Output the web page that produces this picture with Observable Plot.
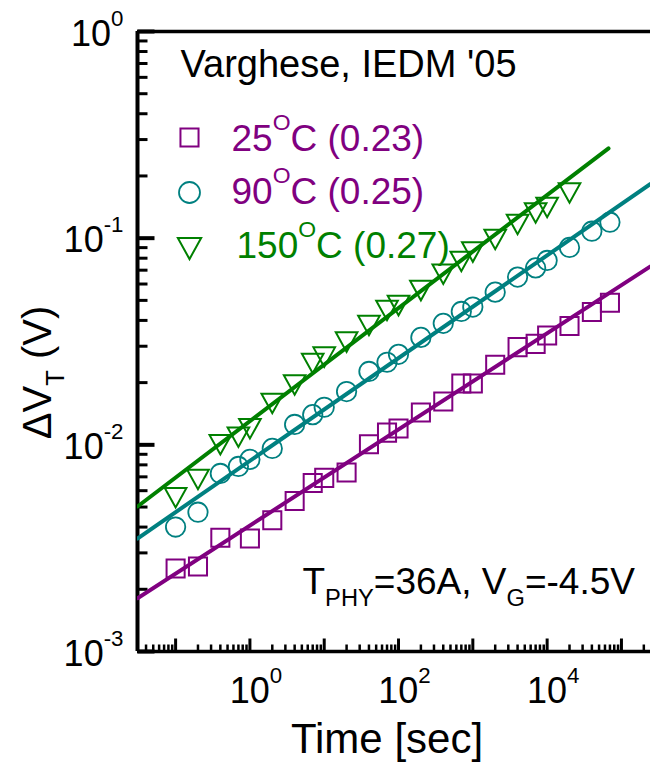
<!DOCTYPE html>
<html>
<head>
<meta charset="utf-8">
<script src="https://cdn.jsdelivr.net/npm/d3@7"></script>
<script src="https://cdn.jsdelivr.net/npm/@observablehq/plot@0.6"></script>
<style>
  html, body { margin: 0; padding: 0; background: #fff; }
  #chart { width: 650px; height: 763px; }
</style>
</head>
<body>
<div id="chart"></div>
<script>
// ---------- data ----------
const time25 = [0.1,0.2,0.4,1,2,4,7,10,20,40,70,100,200,400,700,1000,2000,4000,7000,10000,20000,40000,70000];
const dvt25  = [0.00252,0.00258,0.00355,0.00352,0.00432,0.00535,0.00653,0.00692,0.00735,0.01007,0.01146,0.0120,0.01435,0.0162,0.0198,0.0198,0.0244,0.0297,0.0308,0.0338,0.0376,0.0439,0.0487];

const time90 = [0.1,0.2,0.4,0.7,1,2,4,7,10,20,40,70,100,200,400,700,1000,2000,4000,7000,10000,20000,40000,70000];
const dvt90  = [0.0040,0.00472,0.00727,0.00786,0.0085,0.00961,0.01255,0.0140,0.0152,0.0181,0.02265,0.0251,0.0274,0.0331,0.0387,0.0442,0.0464,0.0548,0.0648,0.0718,0.0780,0.0902,0.1081,0.1195];

const time150 = [0.1,0.2,0.4,0.7,1,2,4,7,10,20,40,70,100,200,400,700,1000,2000,4000,7000,10000,20000];
const dvt150  = [0.00555,0.0068,0.01001,0.01089,0.01197,0.01586,0.01949,0.02475,0.02656,0.0314,0.0378,0.0447,0.0472,0.0558,0.0669,0.0771,0.0857,0.0986,0.1165,0.1324,0.1408,0.1654];

// power-law fit lines (end points)
const fitTime25  = [0.0307, 246000];
const fitDvt25   = [0.00181, 0.073];
const fitTime90  = [0.0307, 246000];
const fitDvt90   = [0.00352, 0.183];
const fitTime150 = [0.0307, 67000];
const fitDvt150  = [0.00503, 0.272];

const legendLabels = ["25^{O}C (0.23)", "90^{O}C (0.25)", "150^{O}C (0.27)"];
const titleText = ["Varghese, IEDM '05"];
const noteText = ["T_{PHY}=36A, V_{G}=-4.5V"];
const xTitle = ["Time [sec]"];
const yTitle = ["\u0394V_{T} (V)"];

const xTickValues = [1, 100, 10000];
const xTickLabels = ["10^{0}", "10^{2}", "10^{4}"];
const yTickValues = [1, 0.1, 0.01, 0.001];
const yTickLabels = ["10^{0}", "10^{-1}", "10^{-2}", "10^{-3}"];

const xDomain = [0.0307, 246000];
const yDomain = [0.001, 1];

// ---------- styles ----------
const PURPLE = "#800080", TEAL = "#008080", GREEN = "#008000";
const FONT = "'Liberation Sans', Arial, Helvetica, sans-serif";

const downTriangle = {
  draw(context, size) {
    const r = Math.sqrt(size / Math.PI);
    const hw = 1.06 * r, hh = 0.96 * r;
    context.moveTo(-hw, -hh);
    context.lineTo(hw, -hh);
    context.lineTo(0, hh);
    context.closePath();
  }
};
const tickShape = { draw(context, l) { context.moveTo(0, 0); context.lineTo(0, -l); } };

const pts = (t, v) => t.map((d, i) => ({t: d, v: v[i]}));
const isPow10 = d => Math.abs(Math.log10(d) - Math.round(Math.log10(d))) < 1e-9;
const xAll = d3.scaleLog().domain(xDomain).ticks();
const yAll = d3.scaleLog().domain(yDomain).ticks();
const xMajor = xAll.filter(isPow10), xMinor = xAll.filter(d => !isPow10(d));
const yMajor = yAll.filter(isPow10), yMinor = yAll.filter(d => !isPow10(d));

const R = 10.2;

const chart = Plot.plot({
  width: 650,
  height: 763,
  marginLeft: 137,
  marginRight: 0,
  marginTop: 31,
  marginBottom: 112,
  style: {fontFamily: FONT, background: "#fff", color: "#000", overflow: "visible"},
  x: {type: "log", domain: xDomain, axis: null},
  y: {type: "log", domain: yDomain, axis: null},
  marks: [
    // frame
    Plot.ruleY([yDomain[0], yDomain[1]], {y: d => d, stroke: "#000", strokeWidth: 3.5}),
    Plot.ruleX([xDomain[0]], {x: d => d, stroke: "#000", strokeWidth: 4}),
    // inward ticks
    Plot.vector(xMajor, {x: d => d, frameAnchor: "bottom", length: 13, rotate: 0, anchor: "start", shape: tickShape, stroke: "#000", strokeWidth: 3, strokeLinecap: "butt", fill: "none"}),
    Plot.vector(xMinor, {x: d => d, frameAnchor: "bottom", length: 7, rotate: 0, anchor: "start", shape: tickShape, stroke: "#000", strokeWidth: 2.5, strokeLinecap: "butt", fill: "none"}),
    Plot.vector(yMajor, {y: d => d, frameAnchor: "left", length: 17, rotate: 90, anchor: "start", shape: tickShape, stroke: "#000", strokeWidth: 4, strokeLinecap: "butt", fill: "none"}),
    Plot.vector(yMinor, {y: d => d, frameAnchor: "left", length: 10, rotate: 90, anchor: "start", shape: tickShape, stroke: "#000", strokeWidth: 3, strokeLinecap: "butt", fill: "none"}),
    // tick labels
    Plot.text(xTickValues, {x: d => d, text: (d, i) => xTickLabels[i], frameAnchor: "bottom", dy: 51, dx: 6, textAnchor: "middle", lineAnchor: "bottom", fontSize: 36, fill: "#000"}),
    Plot.text(yTickValues, {y: d => d, text: (d, i) => yTickLabels[i], frameAnchor: "left", dx: -14, dy: 14, textAnchor: "end", lineAnchor: "bottom", fontSize: 36, fill: "#000"}),
    // axis titles
    Plot.text(xTitle, {text: d => d, frameAnchor: "bottom", dy: 101, dx: -7, textAnchor: "middle", lineAnchor: "bottom", fontSize: 42, fill: "#000"}),
    Plot.text(yTitle, {text: d => d, frameAnchor: "left", dx: -87, dy: 31, rotate: -90, textAnchor: "middle", lineAnchor: "bottom", fontSize: 40, fill: "#000"}),
    // data
    Plot.dot(pts(time25, dvt25), {x: "t", y: "v", symbol: "square", r: R, stroke: PURPLE, strokeWidth: 2, fill: "none"}),
    Plot.dot(pts(time90, dvt90), {x: "t", y: "v", symbol: "circle", r: 9.7, stroke: TEAL, strokeWidth: 1.8, fill: "none"}),
    Plot.dot(pts(time150, dvt150), {x: "t", y: "v", symbol: downTriangle, r: R, stroke: GREEN, strokeWidth: 2, fill: "none"}),
    Plot.line(pts(fitTime25, fitDvt25), {x: "t", y: "v", stroke: PURPLE, strokeWidth: 4, clip: true}),
    Plot.line(pts(fitTime90, fitDvt90), {x: "t", y: "v", stroke: TEAL, strokeWidth: 4, clip: true}),
    Plot.line(pts(fitTime150, fitDvt150), {x: "t", y: "v", stroke: GREEN, strokeWidth: 4, clip: true}),
    // annotations
    Plot.text(titleText, {text: d => d, frameAnchor: "top-left", dx: 43, dy: 45, textAnchor: "start", lineAnchor: "bottom", fontSize: 38, fill: "#000"}),
    Plot.dot([0], {frameAnchor: "top-left", dx: 52, dy: 106, symbol: "square", r: R, stroke: PURPLE, strokeWidth: 2, fill: "none"}),
    Plot.dot([0], {frameAnchor: "top-left", dx: 52, dy: 161, symbol: "circle", r: 10.5, stroke: TEAL, strokeWidth: 1.8, fill: "none"}),
    Plot.dot([0], {frameAnchor: "top-left", dx: 52, dy: 217, symbol: downTriangle, r: 11, stroke: GREEN, strokeWidth: 2, fill: "none"}),
    Plot.text([legendLabels[0]], {text: d => d, frameAnchor: "top-left", dx: 94, dy: 119, textAnchor: "start", lineAnchor: "bottom", fontSize: 37, fill: PURPLE}),
    Plot.text([legendLabels[1]], {text: d => d, frameAnchor: "top-left", dx: 94, dy: 172, textAnchor: "start", lineAnchor: "bottom", fontSize: 37, fill: PURPLE}),
    Plot.text([legendLabels[2]], {text: d => d, frameAnchor: "top-left", dx: 99, dy: 226, textAnchor: "start", lineAnchor: "bottom", fontSize: 37, fill: GREEN}),
    Plot.text(noteText, {text: d => d, frameAnchor: "top-left", dx: 165, dy: 562, textAnchor: "start", lineAnchor: "bottom", fontSize: 37, fill: "#000"})
  ]
});

document.getElementById("chart").appendChild(chart);

// turn ^{..} and _{..} markup into real superscript / subscript tspans
(function richText(svg) {
  const NS = "http://www.w3.org/2000/svg";
  svg.querySelectorAll("text").forEach(el => {
    const s = el.textContent;
    if (!/[\^_]\{/.test(s)) return;
    const fs = parseFloat(getComputedStyle(el).fontSize) || 36;
    const parts = [];
    const re = /([\^_])\{([^}]*)\}|([^\^_]+)|([\^_])/g;
    let m;
    while ((m = re.exec(s))) {
      if (m[1]) parts.push({type: m[1] === "^" ? "sup" : "sub", text: m[2]});
      else parts.push({type: "normal", text: m[3] || m[4]});
    }
    el.textContent = "";
    let cur = 0;
    for (const p of parts) {
      const ts = document.createElementNS(NS, "tspan");
      let shift = 0, size = fs;
      if (p.type === "sup") { shift = -0.55 * fs; size = 0.62 * fs; }
      else if (p.type === "sub") { shift = 0.33 * fs; size = 0.64 * fs; }
      ts.setAttribute("font-size", size);
      const dy = shift - cur;
      if (dy) ts.setAttribute("dy", dy);
      cur = shift;
      ts.textContent = p.text;
      el.appendChild(ts);
    }
  });
})(chart);
</script>
</body>
</html>
